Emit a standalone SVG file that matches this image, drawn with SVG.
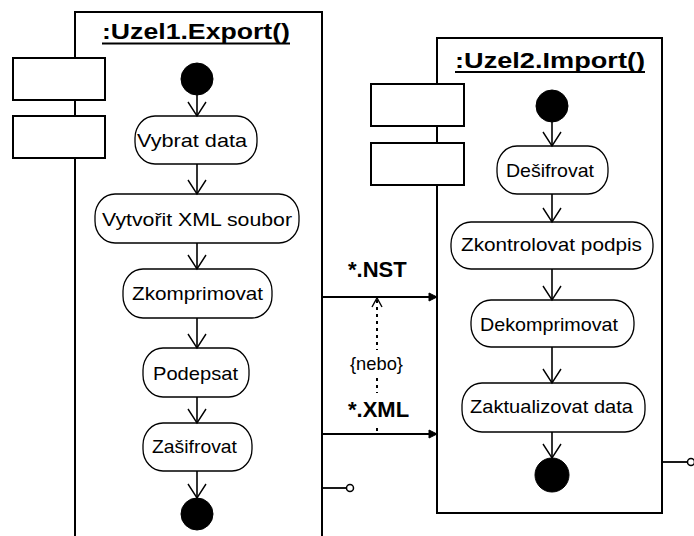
<svg xmlns="http://www.w3.org/2000/svg" width="694" height="536" viewBox="0 0 694 536">
  <style>
    .frame { fill: #fff; stroke: #000; stroke-width: 2; }
    .pin { fill: #fff; stroke: #000; stroke-width: 2; }
    .act { fill: #fff; stroke: #000; stroke-width: 1.3; }
    .lbl { font-family: "Liberation Sans", Arial, sans-serif; font-size: 19px; fill: #000; }
    .title { font-family: "Liberation Sans", Arial, sans-serif; font-size: 22px; font-weight: bold; fill: #000; }
    .flow { fill: none; stroke: #000; stroke-width: 1.6; }
    .msg { fill: none; stroke: #000; stroke-width: 1.8; }
    .dep { fill: none; stroke: #000; stroke-width: 2; stroke-dasharray: 3 4; }
    .bold { font-family: "Liberation Sans", Arial, sans-serif; font-size: 22px; font-weight: bold; fill: #000; }
    .state { fill: #000; stroke: #000; stroke-width: 1; }
  </style>
  <defs>
    <marker id="open" viewBox="-16 -11 18 22" markerWidth="18" markerHeight="22" refX="0" refY="0" orient="auto" markerUnits="userSpaceOnUse">
      <path d="M-14,-9 L0,0 L-14,9" fill="none" stroke="#000" stroke-width="1.4"/>
    </marker>
    <marker id="solid" viewBox="-10 -6 12 12" markerWidth="12" markerHeight="12" refX="0" refY="0" orient="auto" markerUnits="userSpaceOnUse">
      <path d="M-8,-4 L0,0 L-8,4 Z" fill="#000" stroke="#000" stroke-width="1"/>
    </marker>
  </defs>
  <rect width="694" height="536" fill="#fff"/>

  <!-- Swimlane: Uzel1 export -->
  <g id="uzel1">
    <path class="frame" d="M75,545 L75,12 L322,12 L322,545"/>
    <rect class="pin" x="13" y="58" width="92" height="42"/>
    <rect class="pin" x="13" y="116" width="92" height="42"/>
    <text class="title" x="102" y="39" textLength="188" lengthAdjust="spacingAndGlyphs">:Uzel1.Export()</text>
    <line x1="102" y1="43.5" x2="290" y2="43.5" stroke="#000" stroke-width="2"/>
  </g>

  <!-- Swimlane: Uzel2 import -->
  <g id="uzel2">
    <rect class="frame" x="437" y="38" width="225" height="475"/>
    <rect class="pin" x="371" y="84" width="93" height="42"/>
    <rect class="pin" x="371" y="143" width="93" height="42"/>
    <text class="title" x="455" y="68" textLength="190" lengthAdjust="spacingAndGlyphs">:Uzel2.Import()</text>
    <line x1="455" y1="72" x2="645" y2="72" stroke="#000" stroke-width="2"/>
  </g>

  <!-- Export activities -->
  <g id="start1"><circle class="state" cx="197" cy="79" r="16"/></g>
  <g id="vybrat">
    <rect class="act" x="135" y="116" width="122" height="48" rx="20" ry="22"/>
    <text class="lbl" x="137" y="147" textLength="110" lengthAdjust="spacingAndGlyphs">Vybrat data</text>
  </g>
  <g id="vytvorit">
    <rect class="act" x="95" y="194" width="204" height="49" rx="20" ry="22"/>
    <text class="lbl" x="102" y="226" textLength="190" lengthAdjust="spacingAndGlyphs">Vytvořit XML soubor</text>
  </g>
  <g id="zkomprimovat">
    <rect class="act" x="123" y="269" width="149" height="49" rx="20" ry="22"/>
    <text class="lbl" x="132" y="300" textLength="131" lengthAdjust="spacingAndGlyphs">Zkomprimovat</text>
  </g>
  <g id="podepsat">
    <rect class="act" x="143" y="348" width="106" height="49" rx="20" ry="22"/>
    <text class="lbl" x="153" y="380" textLength="85" lengthAdjust="spacingAndGlyphs">Podepsat</text>
  </g>
  <g id="zasifrovat">
    <rect class="act" x="143" y="423" width="109" height="48" rx="20" ry="22"/>
    <text class="lbl" x="152" y="453" textLength="85" lengthAdjust="spacingAndGlyphs">Zašifrovat</text>
  </g>
  <g id="end1"><circle class="state" cx="197" cy="514" r="16"/></g>

  <!-- Import activities -->
  <g id="start2"><circle class="state" cx="552" cy="106" r="16"/></g>
  <g id="desifrovat">
    <rect class="act" x="497" y="146" width="111" height="48" rx="20" ry="22"/>
    <text class="lbl" x="506" y="177" textLength="88" lengthAdjust="spacingAndGlyphs">Dešifrovat</text>
  </g>
  <g id="zkontrolovat">
    <rect class="act" x="451" y="222" width="202" height="47" rx="20" ry="22"/>
    <text class="lbl" x="461" y="251" textLength="181" lengthAdjust="spacingAndGlyphs">Zkontrolovat podpis</text>
  </g>
  <g id="dekomprimovat">
    <rect class="act" x="471" y="300" width="163" height="47" rx="20" ry="22"/>
    <text class="lbl" x="480" y="331" textLength="138" lengthAdjust="spacingAndGlyphs">Dekomprimovat</text>
  </g>
  <g id="zaktualizovat">
    <rect class="act" x="462" y="383" width="183" height="49" rx="20" ry="22"/>
    <text class="lbl" x="470" y="413" textLength="163" lengthAdjust="spacingAndGlyphs">Zaktualizovat data</text>
  </g>
  <g id="end2"><circle class="state" cx="552" cy="475" r="17"/></g>

  <!-- Connectors -->
  <g id="connectors">
    <line class="flow" x1="197" y1="95" x2="197" y2="116" marker-end="url(#open)"/>
    <line class="flow" x1="197" y1="164" x2="197" y2="194" marker-end="url(#open)"/>
    <line class="flow" x1="197" y1="243" x2="197" y2="269" marker-end="url(#open)"/>
    <line class="flow" x1="197" y1="318" x2="197" y2="348" marker-end="url(#open)"/>
    <line class="flow" x1="197" y1="397" x2="197" y2="423" marker-end="url(#open)"/>
    <line class="flow" x1="197" y1="471" x2="197" y2="498" marker-end="url(#open)"/>

    <line class="flow" x1="552" y1="122" x2="552" y2="146" marker-end="url(#open)"/>
    <line class="flow" x1="552" y1="194" x2="552" y2="222" marker-end="url(#open)"/>
    <line class="flow" x1="552" y1="269" x2="552" y2="300" marker-end="url(#open)"/>
    <line class="flow" x1="552" y1="347" x2="552" y2="383" marker-end="url(#open)"/>
    <line class="flow" x1="552" y1="432" x2="552" y2="458" marker-end="url(#open)"/>

    <!-- transfer channels between the nodes -->
    <line class="msg" x1="322" y1="297" x2="437" y2="297" marker-end="url(#solid)"/>
    <line class="msg" x1="322" y1="434" x2="437" y2="434" marker-end="url(#solid)"/>
    <text class="bold" x="348" y="277">*.NST</text>
    <text class="bold" x="348" y="417">*.XML</text>

    <!-- {nebo} constraint -->
    <line class="dep" x1="377" y1="300" x2="377" y2="350"/>
    <path d="M372,307 L377,298 L382,307" fill="none" stroke="#000" stroke-width="1.4"/>
    <text class="lbl" x="350" y="370" font-size="17" textLength="53" lengthAdjust="spacingAndGlyphs">{nebo}</text>
    <line class="dep" x1="377" y1="378" x2="377" y2="393"/>
    <line class="dep" x1="377" y1="428" x2="377" y2="432"/>

    <!-- interface ports -->
    <line class="msg" x1="322" y1="488" x2="346" y2="488"/>
    <circle cx="350" cy="488" r="3.5" fill="#fff" stroke="#000" stroke-width="1.5"/>
    <line class="msg" x1="662" y1="462" x2="687" y2="462"/>
    <circle cx="691" cy="462" r="3.5" fill="#fff" stroke="#000" stroke-width="1.5"/>
  </g>
</svg>
